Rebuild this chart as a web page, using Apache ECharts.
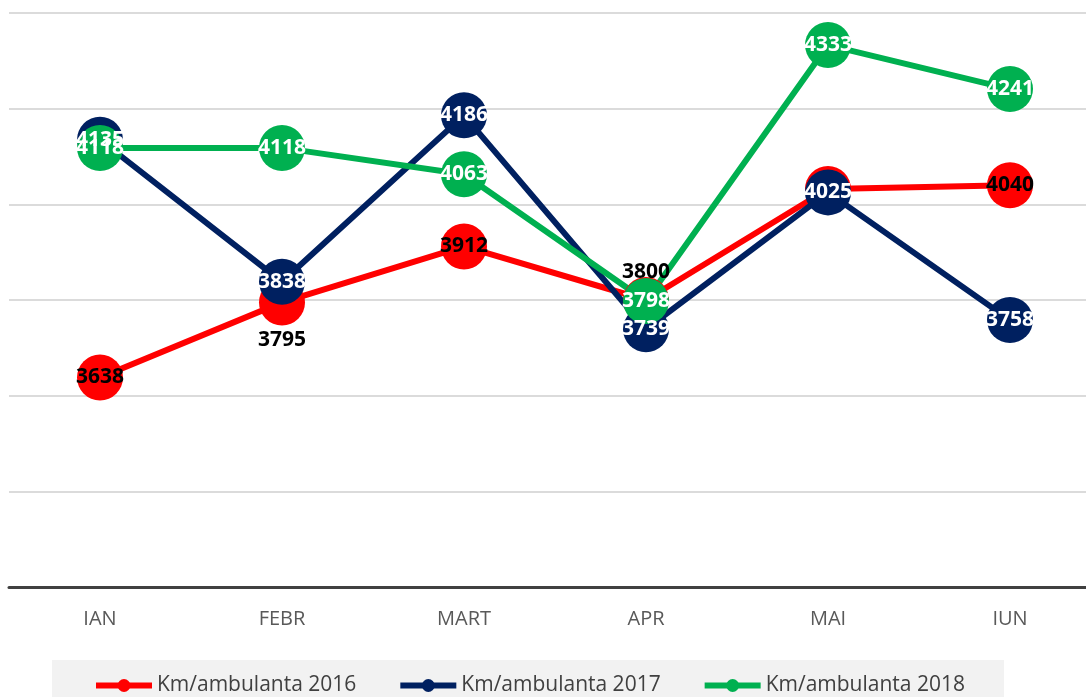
<!DOCTYPE html>
<html>
<head>
<meta charset="utf-8">
<script src="https://cdn.jsdelivr.net/npm/echarts@6/dist/echarts.min.js"></script>
<style>
html,body{margin:0;padding:0;background:#fff;}
#chart{width:1086px;height:697px;}
</style>
</head>
<body>
<div id="chart"></div>
<script>
// date
var luni = ['IAN', 'FEBR', 'MART', 'APR', 'MAI', 'IUN'];
var km2016 = [3638, 3795, 3912, 3800, 4032, 4040];
var km2017 = [4135, 3838, 4186, 3739, 4025, 3758];
var km2018 = [4118, 4118, 4063, 3798, 4333, 4241];
var numeSerii = ['Km/ambulanta 2016', 'Km/ambulanta 2017', 'Km/ambulanta 2018'];

// pozitia etichetelor pt 2016 (unele sunt sub/peste marker)
var pozEtichete2016 = ['inside', 'bottom', 'inside', 'top', 'hidden', 'inside'];

var fontul = '"Open Sans", sans-serif';

function serie(nume, valori, culoare, culoareText, pozitii) {
  var date = valori.map(function (v, i) {
    var p = pozitii ? pozitii[i] : 'inside';
    if (p === 'hidden') return {value: v, label: {show: false}};
    return {value: v, label: {position: p, distance: p === 'top' ? -6 : 4}};
  });
  return {
    name: nume,
    type: 'line',
    data: date,
    symbol: 'circle',
    symbolSize: 46,
    showAllSymbol: true,
    lineStyle: {width: 6, color: culoare},
    itemStyle: {color: culoare},
    label: {
      show: true,
      position: 'inside',
      color: culoareText,
      fontFamily: fontul,
      fontWeight: 'bold',
      fontSize: 21
    },
    emphasis: {disabled: true}
  };
}

var chart = echarts.init(document.getElementById('chart'));
chart.setOption({
  animation: false,
  // zona graficului iese putin in dreapta, ca in original
  grid: {left: 9, width: 1092, top: 13, bottom: 110, containLabel: false, outerBoundsMode: 'none'},
  legend: {
    left: 52,
    top: 660,
    backgroundColor: '#f2f2f2',
    padding: [15, 39, 14, 41],
    itemWidth: 56,
    itemHeight: 16,
    itemGap: 41,
    lineStyle: {width: 6},
    textStyle: {fontFamily: fontul, fontSize: 21, color: '#404040'},
    data: numeSerii
  },
  xAxis: {
    type: 'category',
    data: luni,
    axisTick: {show: false},
    axisLine: {lineStyle: {color: '#404040', width: 3}},
    axisLabel: {margin: 22, fontFamily: fontul, fontSize: 20, color: '#595959'}
  },
  yAxis: {
    type: 'value',
    min: 3200,
    max: 4400,
    interval: 200,
    axisLabel: {show: false},
    axisLine: {show: false},
    axisTick: {show: false},
    splitLine: {lineStyle: {color: '#cfcfcf', width: 1.5}}
  },
  series: [
    serie(numeSerii[0], km2016, '#ff0000', '#000000', pozEtichete2016),
    serie(numeSerii[1], km2017, '#002060', '#ffffff'),
    serie(numeSerii[2], km2018, '#00b050', '#ffffff')
  ]
});
</script>
</body>
</html>
